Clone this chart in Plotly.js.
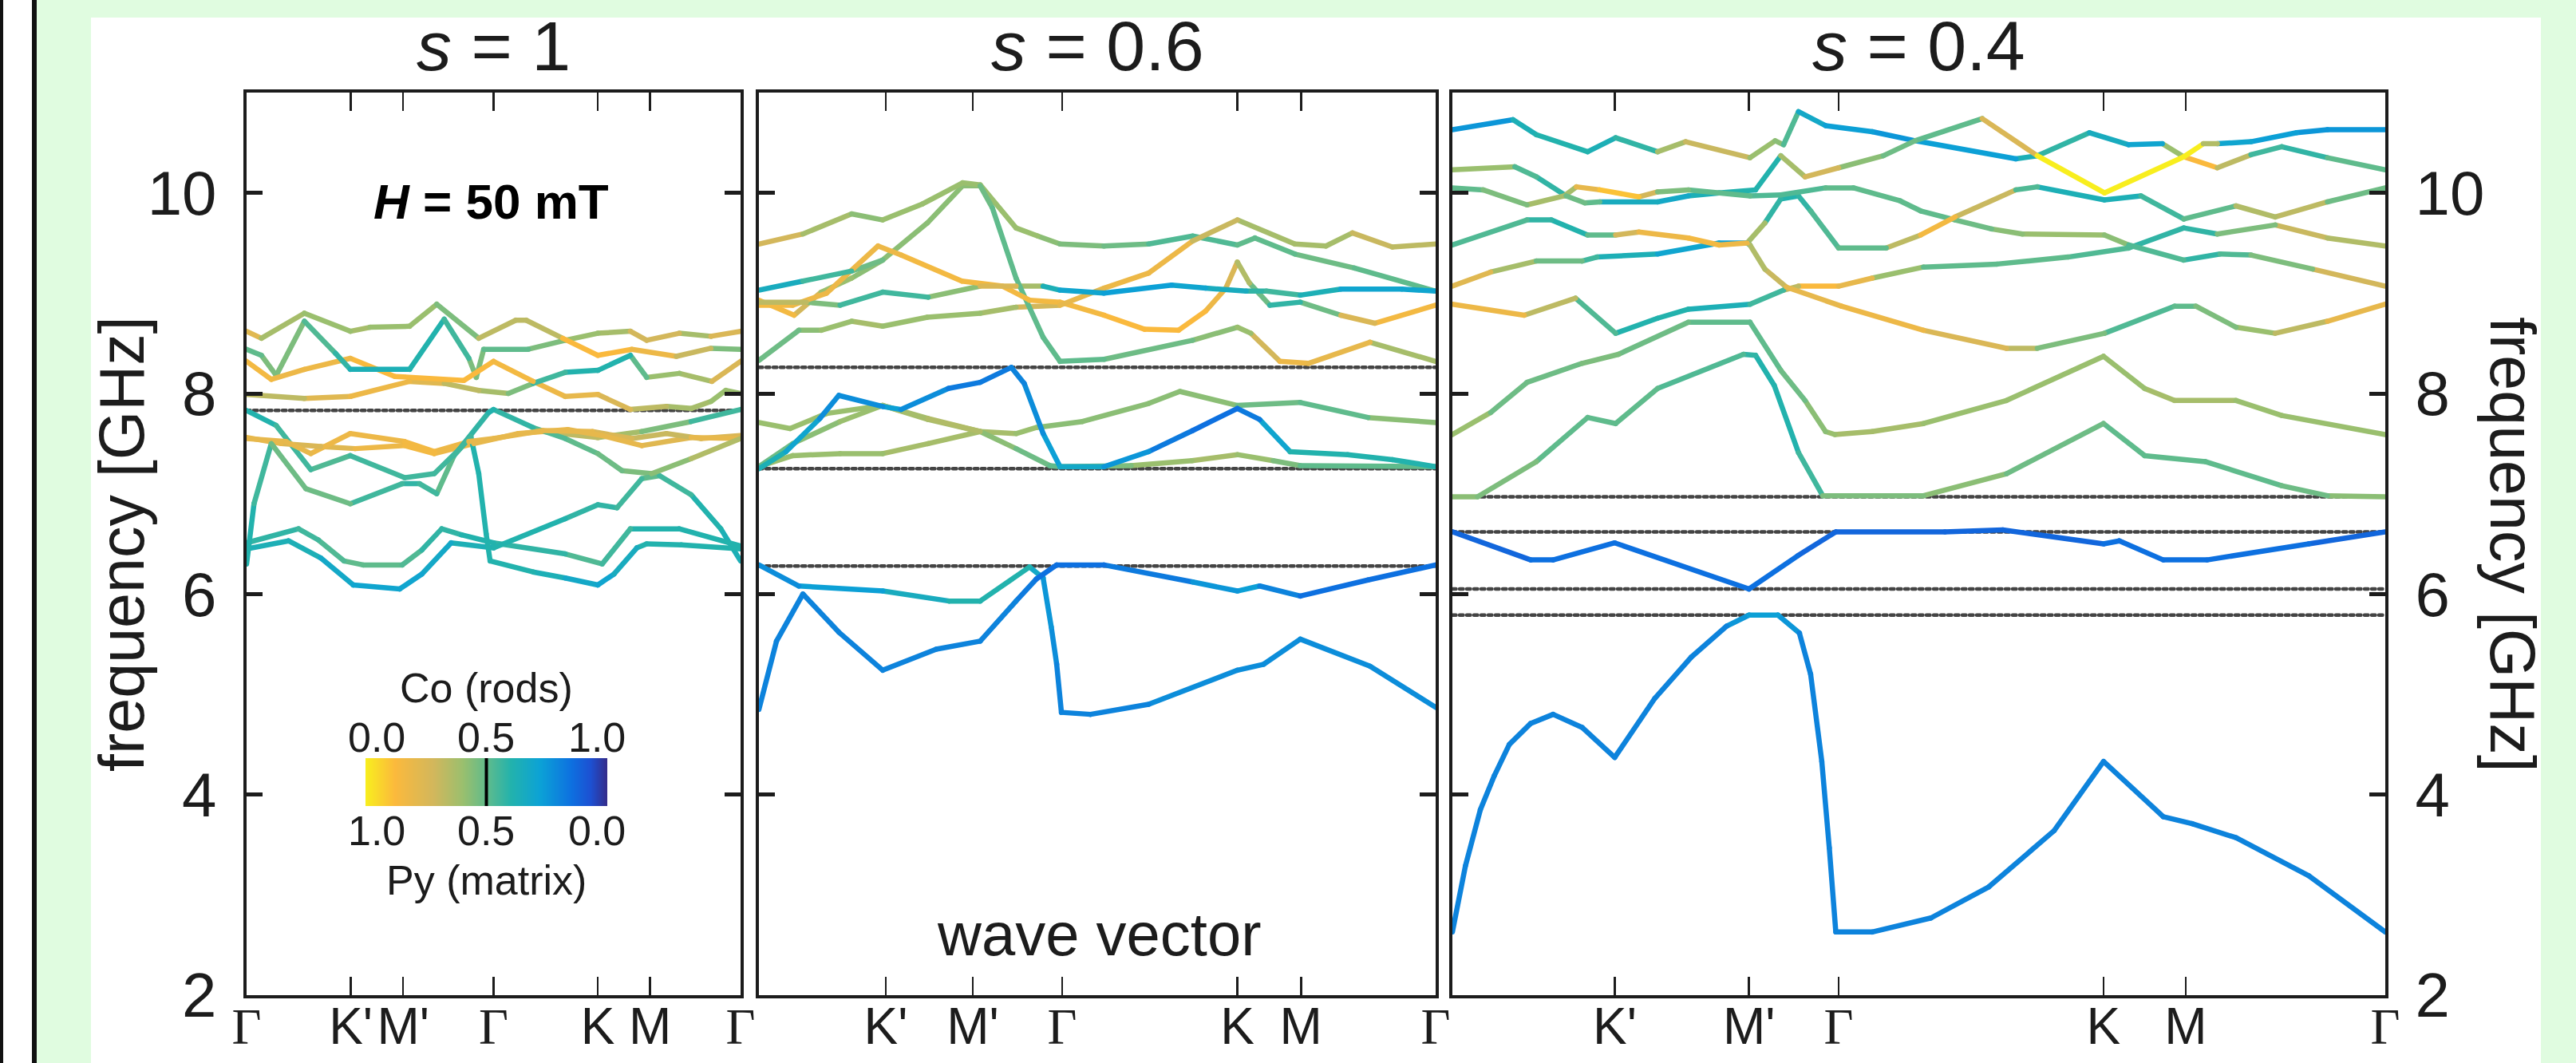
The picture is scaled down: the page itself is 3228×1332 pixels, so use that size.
<!DOCTYPE html>
<html><head><meta charset="utf-8">
<script src="https://cdn.plot.ly/plotly-3.0.1.min.js"></script>
<style>
html,body{margin:0;padding:0;background:#e0fce0;}
.scatterlayer .js-line{stroke-linecap:round !important;stroke-linejoin:round !important;}
</style></head>
<body><div id="chart" style="width:3228px;height:1332px;"></div>
<script>
// ---- path nodes (normalised wave-vector path position) ----
const nodeLabels = ['Γ', "K'", "M'", 'Γ', 'K', 'M', 'Γ'];
const nodes1 = [0, 0.211, 0.317, 0.5, 0.711, 0.817, 1];
const nodes2 = [0, 0.1875, 0.316, 0.448, 0.707, 0.801, 1];
const nodes3 = [0, 0.174, 0.318, 0.414, 0.698, 0.786, 1];
const freqTicks = [2, 4, 6, 8, 10];
const panelTitles = ['1', '0.6', '0.4'];
// band-gap edges (dotted lines), GHz
const gaps1 = [7.83];
const gaps2 = [8.26, 7.25, 6.28];
const gaps3 = [6.97, 6.62, 6.05, 5.79];
// colour bar ticks (Co fraction)
const cbTicks = [0.0, 0.5, 1.0];

// ---- bands: [path position, frequency GHz, Co fraction] ----
// s = 1
const s1_A1 = [[0,8.62,.15],[.03,8.55,.3],[.117,8.80,.45],[.21,8.62,.35],[.25,8.66,.38],[.33,8.67,.4],[.385,8.89,.42],[.47,8.55,.5],[.545,8.73,.15],[.566,8.73,.5],[.64,8.55,.15],[.711,8.38,.12],[.78,8.44,.15],[.87,8.37,.2],[.94,8.45,.4],[1,8.44,.5]];
const s1_A2 = [[0,8.44,.5],[.03,8.38,.5],[.06,8.18,.42],[.117,8.72,.5],[.18,8.40,.55],[.21,8.24,.62],[.33,8.24,.62],[.40,8.74,.6],[.45,8.35,.5],[.465,8.16,.42],[.48,8.44,.5],[.57,8.44,.5],[.645,8.53,.4],[.711,8.60,.38],[.777,8.62,.38],[.81,8.53,.15],[.876,8.60,.38],[.94,8.57,.35],[1,8.62,.15]];
const s1_A3 = [[0,8.32,.15],[.05,8.14,.15],[.117,8.24,.18],[.21,8.35,.15],[.30,8.17,.12],[.44,8.13,.12],[.50,8.32,.15],[.58,8.12,.15],[.645,7.97,.2],[.711,7.99,.18],[.777,7.84,.3],[.85,7.87,.35],[.90,7.85,.38],[.94,7.92,.38],[.97,8.03,.4],[1,8.0,.4]];
const s1_A4 = [[0,7.99,.38],[.117,7.95,.25],[.21,7.97,.2],[.33,8.12,.15],[.40,8.10,.3],[.47,8.03,.35],[.53,8.0,.42],[.58,8.10,.5],[.645,8.21,.58],[.711,8.23,.62],[.777,8.38,.58],[.81,8.16,.4],[.876,8.20,.38],[.942,8.12,.35],[1,8.32,.15]];
const s1_B1 = [[0,7.83,.6],[.06,7.68,.58],[.13,7.24,.52],[.21,7.38,.55],[.32,7.16,.55],[.38,7.20,.55],[.43,7.44,.55],[.49,7.81,.6],[.50,7.84,.6],[.58,7.66,.55],[.645,7.55,.52],[.711,7.40,.5],[.76,7.23,.45],[.82,7.20,.45],[.90,7.35,.42],[1,7.55,.3]];
const s1_B2 = [[0,7.55,.18],[.08,7.52,.22],[.13,7.40,.18],[.21,7.60,.18],[.32,7.52,.15],[.38,7.42,.15],[.45,7.52,.18],[.50,7.55,.2],[.60,7.63,.18],[.70,7.62,.2],[.78,7.55,.3],[.85,7.60,.32],[.92,7.55,.3],[1,7.58,.2]];
const s1_B3 = [[0,7.56,.15],[.07,7.50,.25],[.15,7.47,.25],[.22,7.45,.18],[.32,7.48,.15],[.38,7.40,.15],[.46,7.50,.2],[.55,7.60,.18],[.65,7.64,.18],[.72,7.58,.22],[.80,7.48,.2],[.90,7.56,.25],[1,7.55,.15]];
const s1_B4 = [[.60,7.62,.3],[.711,7.56,.35],[.80,7.62,.42],[.90,7.72,.5],[1,7.84,.6]];
const s1_E1 = [[0,6.30,.6],[.015,6.9,.6],[.05,7.50,.5],[.12,7.05,.45],[.21,6.90,.5],[.315,7.10,.58],[.35,7.10,.58],[.385,7.00,.5],[.42,7.38,.5],[.454,7.57,.6],[.47,7.2,.6],[.485,6.6,.6],[.493,6.33,.6],[.58,6.22,.62],[.645,6.16,.65],[.711,6.09,.7],[.744,6.2,.68],[.79,6.46,.62],[.81,6.50,.6],[.88,6.49,.6],[1,6.45,.62]];
const s1_D1 = [[0,6.51,.6],[.105,6.65,.55],[.145,6.54,.55],[.197,6.33,.52],[.236,6.29,.5],[.315,6.29,.5],[.355,6.44,.55],[.395,6.65,.58],[.435,6.59,.58],[.50,6.51,.6],[.645,6.40,.55],[.72,6.30,.52],[.777,6.65,.58],[.876,6.65,.6],[1,6.48,.6]];
const s1_D2 = [[0,6.45,.62],[.085,6.53,.62],[.15,6.36,.65],[.216,6.09,.7],[.31,6.05,.72],[.355,6.20,.68],[.414,6.51,.65],[.50,6.46,.62],[.645,6.75,.58],[.711,6.89,.58],[.75,6.86,.58],[.80,7.15,.52],[.836,7.18,.5],[.90,6.99,.6],[.96,6.65,.62],[1,6.33,.62]];
// s = 0.6
const s2_L1 = [[0,9.49,.18],[.065,9.59,.35],[.137,9.79,.42],[.183,9.73,.42],[.242,9.89,.4],[.301,10.10,.4],[.327,10.08,.4],[.38,9.65,.38],[.412,9.57,.4],[.445,9.49,.45],[.51,9.47,.45],[.576,9.49,.48],[.641,9.57,.55],[.707,9.48,.5],[.733,9.55,.5],[.792,9.39,.5],[.88,9.25,.45],[1,9.02,.55]];
const s2_L2 = [[0,8.93,.15],[.052,8.78,.15],[.092,9.01,.4],[.137,9.15,.42],[.183,9.33,.42],[.249,9.70,.42],[.301,10.07,.42],[.327,10.07,.45],[.345,9.85,.5],[.38,9.15,.5],[.42,8.56,.5],[.445,8.32,.5],[.51,8.34,.5],[.641,8.53,.45],[.707,8.66,.4],[.727,8.60,.38],[.77,8.32,.18],[.812,8.30,.15],[.903,8.51,.25],[1,8.32,.5]];
const s2_L3 = [[0,8.33,.5],[.059,8.63,.45],[.092,8.63,.4],[.137,8.72,.38],[.183,8.67,.38],[.249,8.76,.4],[.327,8.80,.38],[.38,8.86,.35],[.445,8.88,.2],[.51,9.05,.18],[.576,9.20,.15],[.641,9.52,.2],[.707,9.73,.38],[.792,9.49,.38],[.838,9.47,.35],[.877,9.60,.4],[.936,9.46,.18],[1,9.49,.45]];
const s2_L4 = [[0,8.88,.15],[.05,8.88,.15],[.10,9.0,.18],[.176,9.47,.18],[.21,9.38,.15],[.30,9.12,.15],[.36,9.07,.15],[.40,8.93,.15],[.445,8.91,.15],[.51,8.78,.15],[.57,8.64,.12],[.62,8.63,.12],[.66,8.82,.15],[.69,9.05,.2],[.707,9.31,.3],[.725,9.10,.4],[.755,8.88,.55],[.80,8.91,.6],[.86,8.78,.35],[.91,8.70,.15],[1,8.88,.15]];
const s2_L5 = [[0,9.03,.72],[.065,9.12,.6],[.137,9.22,.5],[.183,9.33,.45]];
const s2_L6 = [[0,8.91,.3],[.07,8.91,.35],[.12,8.88,.55],[.183,9.01,.55],[.25,8.96,.55],[.327,9.07,.3],[.38,9.07,.2],[.42,9.07,.55],[.445,9.03,.68],[.51,9.00,.72],[.61,9.08,.72],[.66,9.05,.68],[.72,9.02,.6],[.75,9.02,.55],[.80,8.98,.55],[.86,9.04,.68],[.95,9.04,.7],[1,9.02,.72]];
const s2_M1 = [[0,7.25,.6],[.04,7.42,.65],[.09,7.75,.75],[.118,7.98,.8],[.183,7.87,.75],[.21,7.84,.72],[.28,8.05,.82],[.327,8.11,.85],[.373,8.26,.82],[.392,8.10,.78],[.42,7.60,.75],[.445,7.27,.68],[.51,7.27,.68],[.576,7.42,.8],[.641,7.63,.85],[.707,7.85,.85],[.74,7.74,.78],[.785,7.42,.6],[.87,7.39,.58],[.936,7.34,.62],[1,7.27,.6]];
const s2_M2 = [[0,7.27,.5],[.05,7.50,.45],[.12,7.72,.42],[.183,7.88,.38],[.25,7.74,.35],[.327,7.62,.38],[.38,7.45,.45],[.43,7.28,.5],[.445,7.27,.5],[.55,7.28,.42],[.64,7.33,.38],[.707,7.39,.38],[.76,7.33,.42],[.80,7.28,.5],[1,7.27,.5]];
const s2_M3 = [[0,7.27,.4],[.05,7.38,.4],[.12,7.40,.4],[.183,7.40,.38],[.25,7.50,.38],[.327,7.62,.38],[.38,7.60,.36],[.41,7.66,.42],[.478,7.72,.45],[.576,7.90,.42],[.622,8.02,.45],[.707,7.88,.38],[.80,7.91,.55],[.90,7.76,.45],[1,7.71,.38]];
const s2_M4 = [[0,7.71,.38],[.046,7.65,.4],[.10,7.80,.4],[.183,7.88,.38],[.25,7.75,.36],[.327,7.62,.35]];
const s2_N1 = [[0,6.29,.82],[.059,6.08,.75],[.183,6.03,.68],[.281,5.93,.62],[.327,5.93,.6],[.40,6.27,.62],[.42,6.16,.72],[.432,5.67,.78],[.44,5.30,.78],[.447,4.82,.8],[.49,4.80,.8],[.576,4.90,.78],[.707,5.24,.78],[.746,5.30,.78],[.80,5.55,.78],[.903,5.28,.78],[1,4.87,.78]];
const s2_N2 = [[0,4.85,.8],[.026,5.53,.8],[.065,6.0,.8],[.118,5.62,.8],[.183,5.24,.8],[.262,5.45,.8],[.327,5.53,.8],[.38,5.93,.82],[.41,6.15,.85],[.44,6.29,.85],[.51,6.29,.85],[.641,6.12,.8],[.707,6.03,.72],[.74,6.08,.75],[.80,5.98,.85],[.90,6.14,.85],[1,6.29,.85]];
// s = 0.4
const s3_1 = [[0,10.63,.78],[.065,10.73,.72],[.09,10.58,.55],[.145,10.41,.65],[.175,10.55,.62],[.22,10.41,.55],[.25,10.51,.2],[.319,10.35,.38],[.346,10.52,.4],[.355,10.48,.45],[.371,10.81,.62],[.40,10.67,.72],[.45,10.61,.75],[.496,10.52,.75],[.604,10.34,.72],[.627,10.37,.55],[.683,10.60,.6],[.725,10.48,.7],[.761,10.49,.72],[.784,10.36,.1],[.82,10.25,.15],[.856,10.38,.5],[.889,10.46,.6],[.938,10.35,.55],[1,10.23,.45]];
const s3_2 = [[0,10.23,.35],[.067,10.26,.45],[.09,10.16,.6],[.122,9.97,.55],[.142,9.90,.38],[.158,9.91,.62],[.22,9.91,.7],[.253,9.97,.65],[.286,10.0,.6],[.325,10.03,.6],[.352,10.37,.6],[.378,10.16,.15],[.414,10.25,.38],[.462,10.37,.45],[.496,10.52,.48],[.568,10.74,.5],[.627,10.37,.0],[.699,10.0,.0],[.784,10.36,.0],[.805,10.49,.02],[.82,10.49,.7],[.856,10.51,.72],[.905,10.60,.75],[.938,10.63,.75],[1,10.63,.75]];
const s3_3 = [[0,10.05,.5],[.033,10.03,.5],[.08,9.88,.38],[.12,9.97,.38],[.133,10.06,.35],[.158,10.03,.05],[.20,9.96,.15],[.22,10.01,.4],[.253,10.03,.5],[.319,9.97,.52],[.352,9.98,.55],[.40,10.05,.5],[.43,10.05,.5],[.48,9.92,.5],[.502,9.82,.5],[.539,9.73,.5],[.578,9.64,.45],[.611,9.59,.4],[.699,9.58,.38],[.725,9.48,.45],[.784,9.33,.62],[.823,9.39,.55],[.856,9.38,.5],[.922,9.24,.4],[1,9.07,.15]];
const s3_4 = [[0,9.48,.5],[.08,9.73,.55],[.106,9.73,.58],[.145,9.58,.6],[.175,9.58,.38],[.2,9.61,.18],[.253,9.55,.15],[.286,9.48,.15],[.316,9.50,.2],[.335,9.70,.55],[.352,9.94,.6],[.371,9.97,.6],[.384,9.82,.55],[.414,9.45,.5],[.465,9.45,.5],[.502,9.58,.15],[.539,9.76,.15],[.604,10.03,.45],[.627,10.06,.6],[.699,9.93,.65],[.738,9.97,.6],[.784,9.74,.5],[.84,9.87,.5],[.882,9.76,.2],[.938,9.91,.45],[1,10.05,.5]];
const s3_5 = [[0,9.07,.15],[.041,9.21,.3],[.09,9.32,.45],[.139,9.32,.5],[.155,9.36,.58],[.22,9.39,.65],[.286,9.50,.75],[.316,9.50,.7],[.319,9.48,.35],[.335,9.24,.35],[.358,9.06,.25],[.417,8.87,.15],[.505,8.63,.2],[.594,8.45,.3],[.627,8.45,.35],[.699,8.60,.55],[.774,8.87,.5],[.797,8.87,.5],[.84,8.66,.42],[.882,8.60,.38],[.938,8.72,.25],[1,8.89,.15]];
const s3_6 = [[0,8.89,.18],[.077,8.78,.18],[.132,8.95,.45],[.175,8.60,.62],[.22,8.75,.6],[.253,8.84,.62],[.319,8.89,.62],[.355,9.03,.5],[.371,9.07,.15],[.414,9.07,.1],[.45,9.15,.3],[.505,9.26,.48],[.584,9.29,.5],[.66,9.36,.52],[.725,9.45,.55],[.784,9.65,.62],[.82,9.59,.52],[.882,9.68,.4],[.938,9.55,.18],[1,9.47,.5]];
const s3_7 = [[0,7.59,.35],[.041,7.81,.45],[.08,8.11,.5],[.139,8.30,.45],[.178,8.39,.45],[.253,8.71,.5],[.319,8.71,.5],[.352,8.23,.5],[.378,7.93,.45],[.40,7.62,.4],[.41,7.59,.38],[.45,7.62,.38],[.505,7.70,.38],[.594,7.93,.4],[.698,8.37,.42],[.742,8.05,.38],[.774,7.93,.35],[.84,7.93,.38],[.889,7.78,.4],[1,7.59,.38]];
const s3_8 = [[0,6.97,.42],[.027,6.97,.42],[.09,7.32,.48],[.145,7.76,.5],[.175,7.70,.5],[.22,8.05,.5],[.312,8.39,.55],[.325,8.38,.6],[.345,8.08,.6],[.371,7.41,.58],[.397,6.98,.5],[.505,6.98,.42],[.594,7.20,.45],[.698,7.70,.52],[.742,7.38,.5],[.807,7.32,.52],[.889,7.08,.5],[.938,6.98,.45],[1,6.97,.42]];
const s3_9 = [[0,6.62,.92],[.084,6.34,.85],[.108,6.34,.85],[.174,6.51,.85],[.318,6.05,.85],[.37,6.38,.85],[.411,6.62,.88],[.528,6.62,.88],[.59,6.64,.88],[.698,6.50,.85],[.715,6.53,.85],[.762,6.34,.85],[.809,6.34,.85],[.918,6.50,.85],[1,6.62,.88]];
const s3_10 = [[0,2.63,.8],[.014,3.29,.8],[.030,3.85,.8],[.045,4.19,.8],[.061,4.50,.8],[.084,4.71,.8],[.108,4.80,.8],[.139,4.67,.8],[.174,4.37,.8],[.217,4.96,.8],[.256,5.37,.8],[.294,5.68,.78],[.318,5.79,.72],[.349,5.79,.72],[.372,5.61,.78],[.384,5.20,.8],[.396,4.33,.8],[.404,3.47,.8],[.411,2.63,.8],[.45,2.63,.8],[.513,2.77,.8],[.575,3.08,.8],[.645,3.64,.8],[.698,4.33,.8],[.762,3.78,.8],[.793,3.71,.8],[.84,3.57,.8],[.918,3.19,.8],[1,2.63,.8]];

const bands1 = [s1_A1,s1_A2,s1_A3,s1_A4,s1_B1,s1_B2,s1_B3,s1_B4,s1_E1,s1_D1,s1_D2];
const bands2 = [s2_L1,s2_L2,s2_L3,s2_L4,s2_L5,s2_L6,s2_M1,s2_M2,s2_M3,s2_M4,s2_N1,s2_N2];
const bands3 = [s3_1,s3_2,s3_3,s3_4,s3_5,s3_6,s3_7,s3_8,s3_9,s3_10];

// ---- colour map: Co fraction -> colour (yellow = Py, navy = Co) ----
const cmap = [[0,'#f8ee1e'],[0.12,'#fbb93c'],[0.28,'#d2b75c'],[0.40,'#9abf6e'],[0.50,'#5fbb8c'],[0.60,'#22b2ad'],[0.72,'#0ca2d6'],[0.85,'#0d70e0'],[0.93,'#1d50d2'],[1,'#352a87']];
function hex2rgb(h){return [1,3,5].map(i=>parseInt(h.substr(i,2),16));}
function colorAt(c){
  c=Math.max(0,Math.min(1,c));
  for(let i=0;i<cmap.length-1;i++){
    const [a,ca]=cmap[i],[b,cb]=cmap[i+1];
    if(c<=b){const t=(c-a)/(b-a);const A=hex2rgb(ca),B=hex2rgb(cb);
      return 'rgb('+A.map((v,k)=>Math.round(v+(B[k]-v)*t)).join(',')+')';}
  }
  return cmap[cmap.length-1][1];
}

const FONT='Liberation Sans, Arial, sans-serif';
const INK='#1c1c1c';
const traces=[];
function addGaps(gaps,xa,ya){
  gaps.forEach(g=>traces.push({type:'scatter',mode:'lines',x:[0,1],y:[g,g],xaxis:xa,yaxis:ya,
    line:{color:'#444',width:4.5,dash:'dot'},hoverinfo:'skip',showlegend:false}));
}
function addBands(bands,xa,ya){
  const buckets={};
  bands.forEach(b=>{for(let i=0;i<b.length-1;i++){
    const q=(Math.round((b[i][2]+b[i+1][2])/2*40)/40).toFixed(3);
    if(!buckets[q])buckets[q]={x:[],y:[]};
    buckets[q].x.push(b[i][0],b[i+1][0],null);
    buckets[q].y.push(b[i][1],b[i+1][1],null);
  }});
  Object.keys(buckets).forEach(q=>traces.push({type:'scatter',mode:'lines',x:buckets[q].x,y:buckets[q].y,
    xaxis:xa,yaxis:ya,connectgaps:false,line:{color:colorAt(+q),width:6.5},hoverinfo:'skip',showlegend:false}));
}
addGaps(gaps1,'x','y');addGaps(gaps2,'x2','y2');addGaps(gaps3,'x3','y3');
addBands(bands1,'x','y');addBands(bands2,'x2','y2');addBands(bands3,'x3','y3');

// colour bar as a smooth heatmap on its own small axis
traces.push({type:'heatmap',z:[cbTicks,cbTicks],x:cbTicks,y:[0,1],xaxis:'x4',yaxis:'y4',
  colorscale:cmap,zmin:0,zmax:1,zsmooth:'best',showscale:false,hoverinfo:'skip'});

const W=3228,H=1332;
const px=v=>v/W, py=v=>1-v/H;
const yDom=[py(1247),py(116)];
const serifG=t=>t==='Γ'?'<span style="font-family:Liberation Serif, Times New Roman, serif">Γ</span>':t;
function xAxis(dom,nodes,anchor,skipFirst){
  return {domain:dom,range:[0,1],anchor:anchor,tickvals:nodes,tickangle:0,
    ticktext:nodeLabels.map((t,i)=>(skipFirst&&i===0)?'':serifG(t)),
    ticks:'inside',ticklen:23,tickwidth:2.5,tickcolor:INK,mirror:'ticks',showline:true,linewidth:4,linecolor:INK,
    showgrid:false,zeroline:false,tickfont:{family:'Liberation Sans Narrow, Liberation Sans, Arial, sans-serif',size:64,color:INK},
    ticklabelstandoff:-20,fixedrange:true};
}
function yAxis(anchor,labels,side){
  return {domain:yDom,range:[2,11],anchor:anchor,tickvals:freqTicks,side:side||'left',showticklabels:labels,
    ticks:'inside',ticklen:20,tickwidth:5,tickcolor:INK,mirror:'ticks',showline:true,linewidth:4,linecolor:INK,
    showgrid:false,zeroline:false,tickfont:{family:'Liberation Sans Narrow, Liberation Sans, Arial, sans-serif',size:78,color:INK},
    ticklabelstandoff:18,fixedrange:true};
}
const ann=[];
const dx=[[309,928],[951,1799],[1820,2989]];
panelTitles.forEach((t,i)=>ann.push({xref:'paper',yref:'paper',x:px((dx[i][0]+dx[i][1])/2),y:py(58),
  text:'<i>s</i> = '+t,showarrow:false,xanchor:'center',yanchor:'middle',font:{family:FONT,size:88,color:INK}}));
ann.push({xref:'paper',yref:'paper',x:px(153),y:py(682),text:'frequency [GHz]',textangle:-90,showarrow:false,
  xanchor:'center',yanchor:'middle',font:{family:FONT,size:79,color:INK}});
ann.push({xref:'paper',yref:'paper',x:px(3148),y:py(682),text:'frequency [GHz]',textangle:90,showarrow:false,
  xanchor:'center',yanchor:'middle',font:{family:FONT,size:79,color:INK}});
ann.push({xref:'paper',yref:'paper',x:px(615),y:py(252),text:'<b><i>H</i> = 50 mT</b>',showarrow:false,
  xanchor:'center',yanchor:'middle',font:{family:FONT,size:62,color:'#000'}});
ann.push({xref:'paper',yref:'paper',x:px(1377),y:py(1170),text:'wave vector',showarrow:false,
  xanchor:'center',yanchor:'middle',font:{family:FONT,size:76,color:INK}});
ann.push({xref:'paper',yref:'paper',x:px(609),y:py(862),text:'Co (rods)',showarrow:false,
  xanchor:'center',yanchor:'middle',font:{family:FONT,size:52,color:INK}});
ann.push({xref:'paper',yref:'paper',x:px(609),y:py(1103),text:'Py (matrix)',showarrow:false,
  xanchor:'center',yanchor:'middle',font:{family:FONT,size:52,color:INK}});
const cbX=[472,609,748];
cbTicks.forEach((v,i)=>{
  ann.push({xref:'paper',yref:'paper',x:px(cbX[i]),y:py(924),text:v.toFixed(1),showarrow:false,
    xanchor:'center',yanchor:'middle',font:{family:FONT,size:52,color:INK}});
  ann.push({xref:'paper',yref:'paper',x:px(cbX[i]),y:py(1041),text:(1-v).toFixed(1),showarrow:false,
    xanchor:'center',yanchor:'middle',font:{family:FONT,size:52,color:INK}});
});

const shapes=[
  {type:'rect',xref:'paper',yref:'paper',x0:px(114),x1:px(3184),y0:0,y1:py(22),fillcolor:'#ffffff',line:{width:0},layer:'below'},
  {type:'rect',xref:'paper',yref:'paper',x0:0,x1:px(40),y0:0,y1:1,fillcolor:'#ffffff',line:{width:0},layer:'below'},
  {type:'rect',xref:'paper',yref:'paper',x0:0,x1:px(4),y0:0,y1:1,fillcolor:'#111111',line:{width:0},layer:'below'},
  {type:'rect',xref:'paper',yref:'paper',x0:px(40),x1:px(46),y0:0,y1:1,fillcolor:'#111111',line:{width:0},layer:'below'},
  {type:'line',xref:'x4',yref:'y4',x0:0.5,x1:0.5,y0:0,y1:1,line:{color:'#000',width:4}}
];

const layout={width:W,height:H,margin:{l:0,r:0,t:0,b:0},paper_bgcolor:'#e0fce0',plot_bgcolor:'rgba(0,0,0,0)',
  showlegend:false,font:{family:FONT,color:INK},
  xaxis:xAxis([px(309),px(928)],nodes1,'y',false),
  xaxis2:xAxis([px(951),px(1799)],nodes2,'y2',true),
  xaxis3:xAxis([px(1820),px(2989)],nodes3,'y3',true),
  yaxis:yAxis('x',true,'left'),
  yaxis2:yAxis('x2',false,'left'),
  yaxis3:yAxis('x3',true,'right'),
  xaxis4:{domain:[px(458),px(761)],range:[0,1],anchor:'y4',visible:false,fixedrange:true},
  yaxis4:{domain:[py(1010),py(950)],range:[0,1],anchor:'x4',visible:false,fixedrange:true},
  annotations:ann,shapes:shapes};
Plotly.newPlot('chart',traces,layout,{staticPlot:true,displayModeBar:false});
</script></body></html>
